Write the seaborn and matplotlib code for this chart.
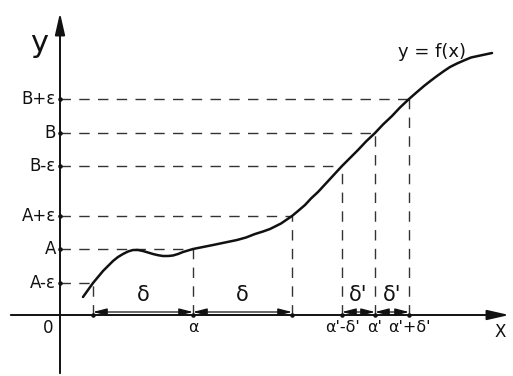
import matplotlib
matplotlib.use("Agg")
import matplotlib.pyplot as plt
import seaborn as sns
import pandas as pd

# ---- data (units: pixels from origin) ----
curve_x = [23, 28, 33, 38, 43, 48, 53, 58, 63, 68, 73, 78, 83, 88, 93, 98, 103, 108, 113,
           118, 123, 128, 133, 143, 153, 165, 177, 186, 195, 203, 210, 221,
           232, 238, 245, 251, 258, 264, 270, 276, 282, 290, 298, 306, 315, 323, 332, 340,
           349, 357, 364, 371, 377, 384, 390, 397, 405, 411, 418, 425, 432]
curve_y = [18, 25, 32, 38, 44, 49, 54, 58, 61, 63.5, 65, 65, 64, 62.5, 61, 59.8, 59, 59, 59.5,
           61, 63, 64.5, 66, 68, 70, 72.5, 75, 77.5, 81, 83.5, 86, 91.5,
           99, 104, 110, 116.5, 123, 129.5, 136, 142.5, 149, 157, 165, 173.5, 182, 190.5, 199, 207.5,
           216, 223, 229, 234.5, 239, 244, 248, 251.5, 255, 257.5, 259, 260.5, 262]

x_points = [33, 133, 232, 282, 315, 349]          # a-δ, a, a+δ, a'-δ', a', a'+δ'
x_point_labels = ["", "α", "", "α'-δ'", "α'", "α'+δ'"]
y_points = [32, 66, 99, 149, 182, 216]            # A-ε, A, A+ε, B-ε, B, B+ε
y_point_labels = ["A-ε", "A", "A+ε", "B-ε", "B", "B+ε"]
delta_spans = [(33, 133, "δ"), (133, 232, "δ"), (282, 315, "δ'"), (315, 349, "δ'")]

sns.set_theme(style="white")
plt.rcParams['font.family'] = ['DejaVu Sans']

fig = plt.figure(figsize=(5.13, 3.76), dpi=100)
ax = fig.add_axes([0, 0, 1, 1])

ink = "#111111"
dash = (0, (7.5, 6))

# axes with arrows
ax.annotate("", xy=(452, 0), xytext=(-52, 0),
            arrowprops=dict(arrowstyle="-|>,head_length=1.1,head_width=0.25", color=ink, lw=1.4))
ax.annotate("", xy=(0, 305), xytext=(0, -61),
            arrowprops=dict(arrowstyle="-|>,head_length=1.1,head_width=0.25", color=ink, lw=1.4))

# dashed guides
for xp, yp in zip(x_points, y_points):
    ax.plot([0, xp], [yp, yp], color="#333333", lw=1.0, linestyle=dash)
    ax.plot([xp, xp], [0, yp], color="#333333", lw=1.0, linestyle=dash)

# curve
df = pd.DataFrame({"x": curve_x, "y": curve_y})
sns.lineplot(data=df, x="x", y="y", ax=ax, color=ink, lw=1.8, sort=False)
ax.set_xlim(-60, 453)
ax.set_ylim(-61, 315)
ax.axis("off")

# tick dots
ax.scatter(x_points, [0] * len(x_points), s=5, color=ink, zorder=5)
ax.scatter([0] * len(y_points), y_points, s=5, color=ink, zorder=5)

# dimension arrows
for x0, x1, lab in delta_spans:
    ax.annotate("", xy=(x1, 3), xytext=(x0, 3),
                arrowprops=dict(arrowstyle="<|-|>,head_length=0.7,head_width=0.18",
                                color=ink, lw=0.9, shrinkA=0, shrinkB=0))
    ax.text((x0 + x1) / 2, 20, lab, ha="center", va="center", fontsize=15, color=ink)

# labels
for xp, lab in zip(x_points, x_point_labels):
    if lab:
        ax.text(xp, -13, lab, ha="center", va="center", fontsize=11.5, color=ink)
for yp, lab in zip(y_points, y_point_labels):
    ax.text(-4, yp, lab, ha="right", va="center", fontsize=12, color=ink)

ax.text(-12, -13, "0", ha="center", va="center", fontsize=12, color=ink)
ax.text(440, -17, "X", ha="center", va="center", fontsize=12, color=ink)
ax.text(-21, 272, "y", ha="center", va="center", fontsize=22, color=ink)
ax.text(372, 263, "y = f(x)", ha="center", va="center", fontsize=13, color=ink)

fig.savefig("out.png", dpi=100)
